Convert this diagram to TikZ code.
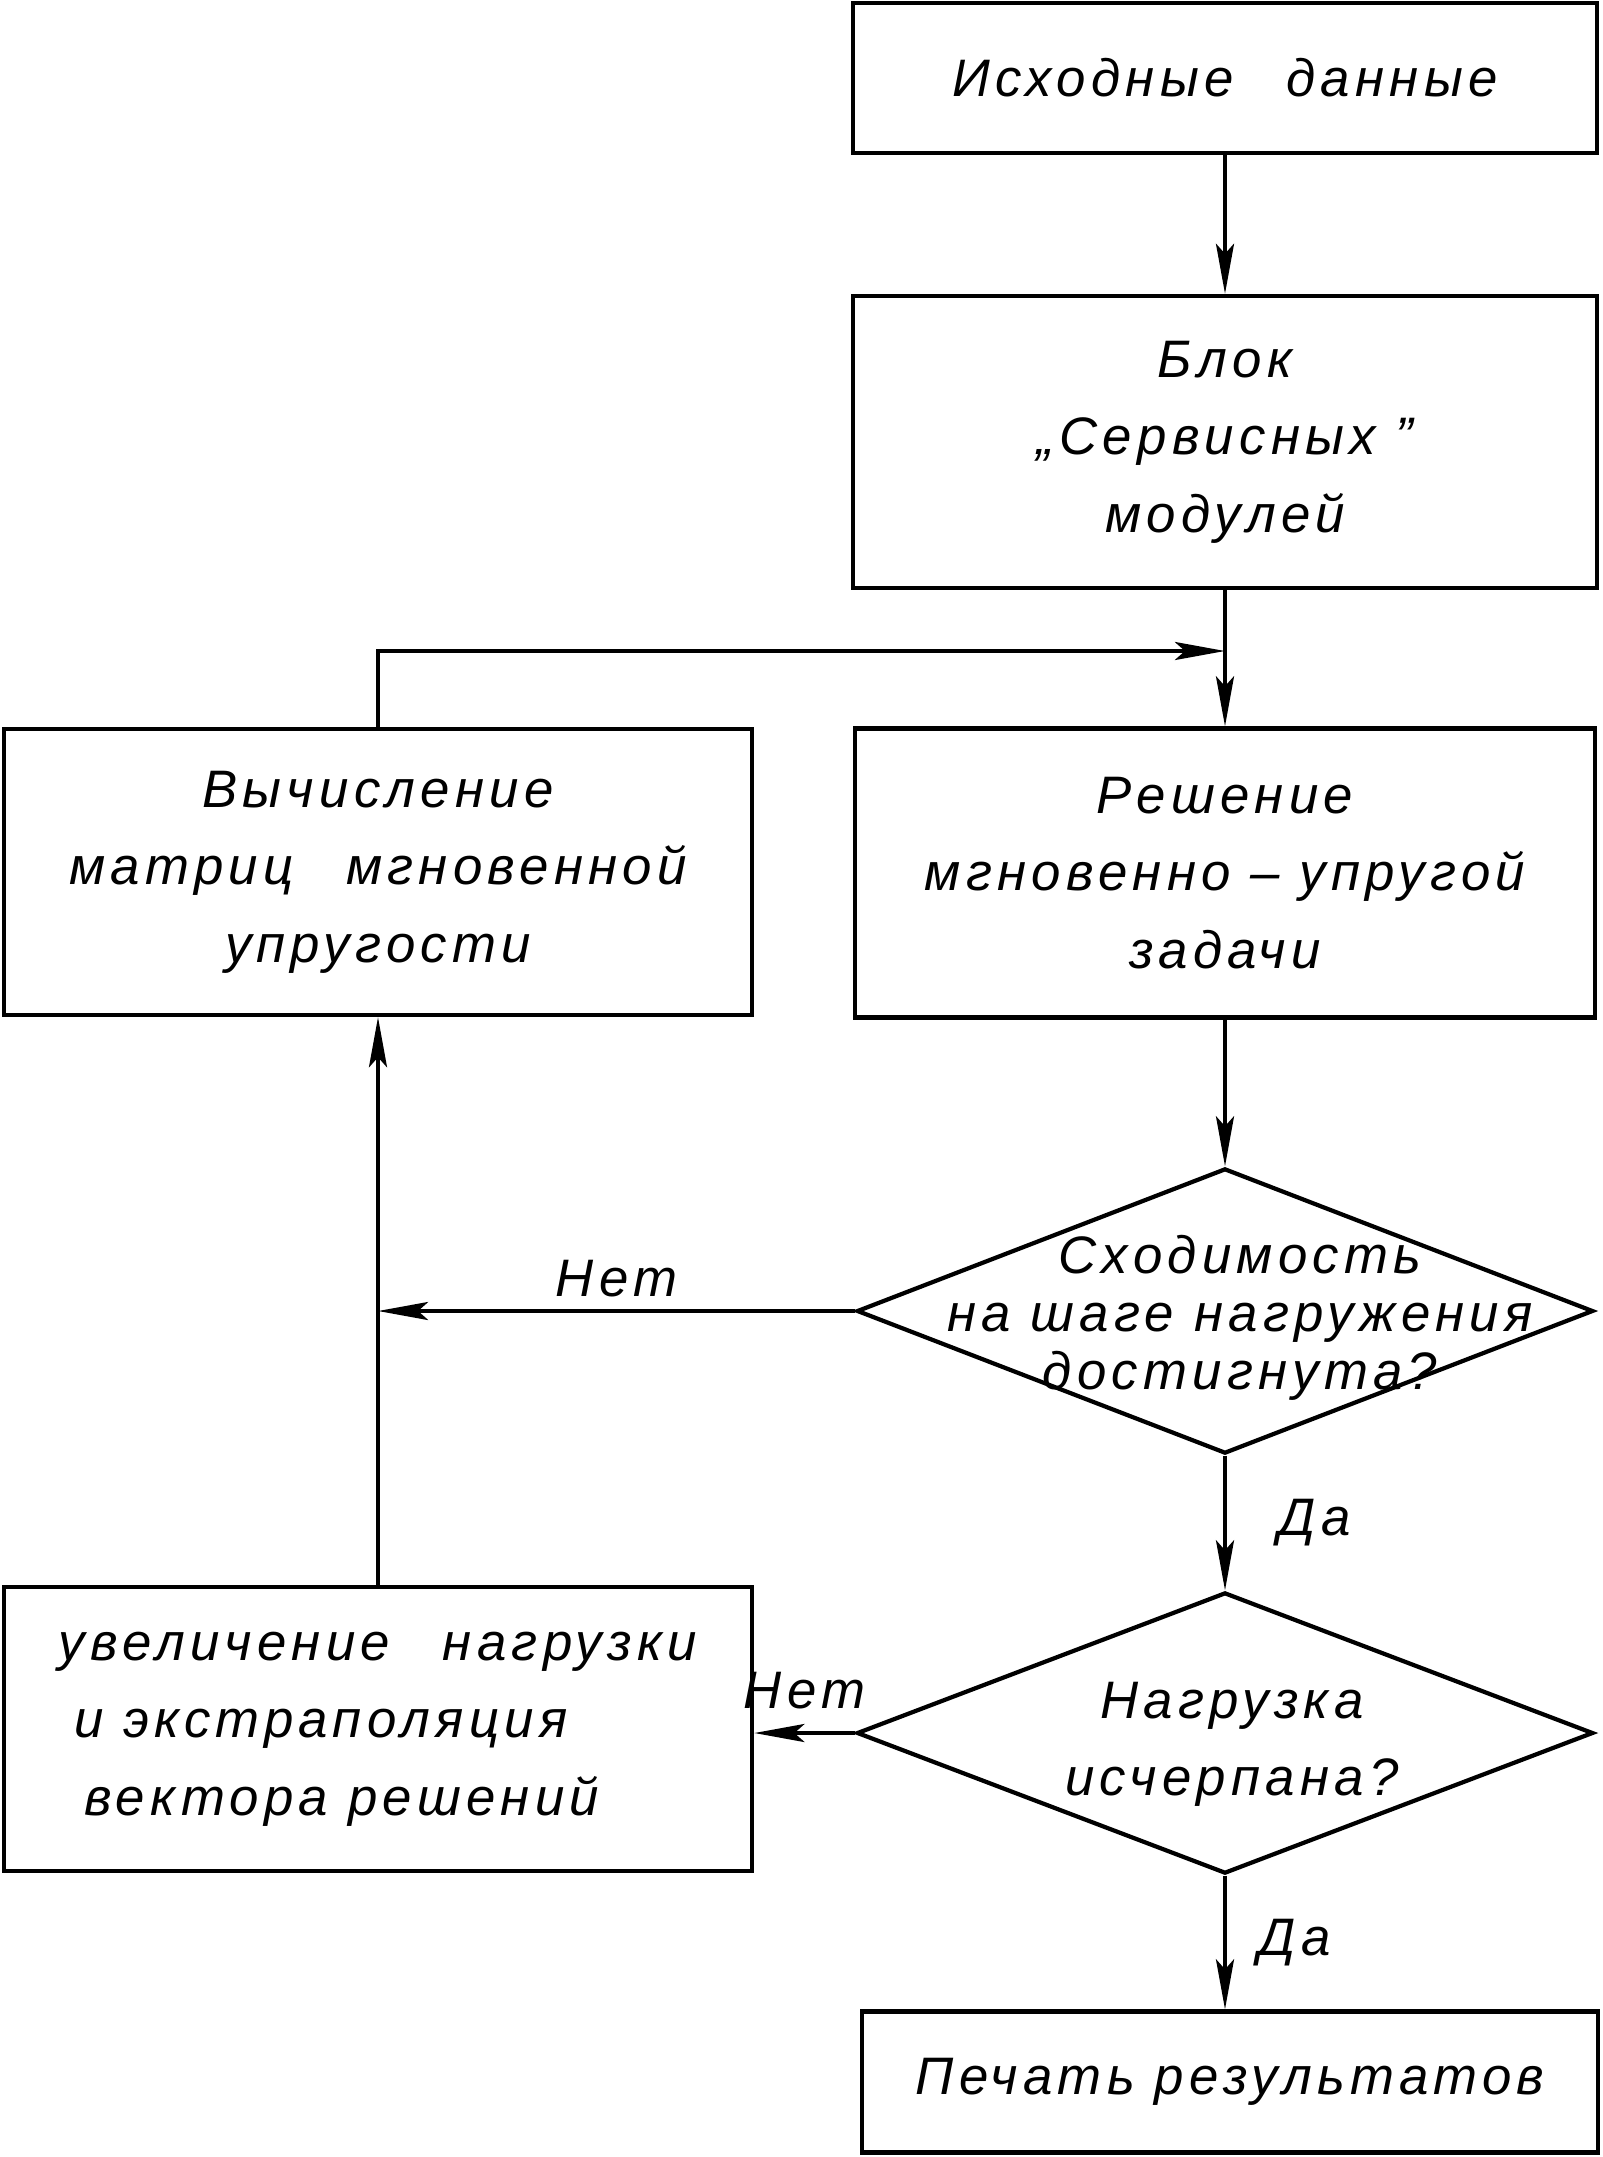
\documentclass[tikz,border=0pt]{standalone}
\usepackage{fontspec}
\setmainfont{Liberation Sans}[LetterSpace=10]
\usetikzlibrary{arrows.meta,shapes.geometric,positioning}

\newcommand\lbl{\fontsize{15}{22}\selectfont\itshape}

\begin{document}
\begin{tikzpicture}[x=0.01cm,y=-0.01cm,line width=1.2pt,
  box/.style={draw,rectangle,inner sep=0pt,align=center,font=\lbl},
  test/.style={draw,diamond,inner sep=0pt,minimum width=7.36cm,minimum height=2.85cm},
  arr/.style={-{Stealth[length=5mm,width=1.8mm,inset=1mm]}}]
\useasboundingbox (0,0) rectangle (1603,2157);

\node[box,minimum width=7.43cm,minimum height=1.5cm] (init) at (1225,78) {Исходные\quad данные};
\node[box,minimum width=7.43cm,minimum height=2.92cm] (serv) at (1225,442) {Блок\\„Сервисных~”\\модулей};
\node[box,minimum width=7.48cm,minimum height=2.86cm] (matr) at (378,872) {Вычисление\\матриц\quad мгновенной\\упругости};
\node[box,minimum width=7.39cm,minimum height=2.89cm] (solve) at (1225,873) {Решение\\мгновенно -- упругой\\задачи};

\node[test] (conv) at (1225,1311) {};
\node[font=\fontsize{15}{16.5}\selectfont\itshape,align=center] (convtxt) at (1240,1318) {Сходимость\\на шаге нагружения\\достигнута?};

\node[test,minimum height=2.81cm] (load) at (1225,1733) {};
\node[font=\lbl,align=center] (loadtxt) at (1232,1744) {Нагрузка\\исчерпана?};

\node[box,align=left,minimum width=7.48cm,minimum height=2.84cm] (incr) at (378,1729)
  {увеличение\quad нагрузки\\\hspace{1.5mm}и экстраполяция\\\hspace{2.5mm}вектора\ решений};
\node[box,minimum width=7.36cm,minimum height=1.41cm] (print) at (1230,2082) {Печать результатов};

% main line
\coordinate (merge) at (1225,651);
\coordinate (back) at (matr.south |- conv.west);
\draw[arr] (init) -- (serv);
\draw[arr] (serv) -- (solve);
\draw[arr] (solve) -- (conv);
\draw[arr] (conv) -- node[right=4mm,font=\lbl]{Да} (load);
\draw[arr] (load.south) -- node[right=2mm,font=\lbl]{Да} (load.south |- print.north);

% loop back
\draw[arr] (conv.west) -- node[above,font=\lbl]{Нет} (back);
\draw[arr] (load.west) -- node[above=1mm,font=\lbl]{Нет} (load.west -| incr.east);
\draw[arr] (incr.north) -- (matr.south);
\draw[arr] (matr.north) |- (merge);
\end{tikzpicture}
\end{document}
